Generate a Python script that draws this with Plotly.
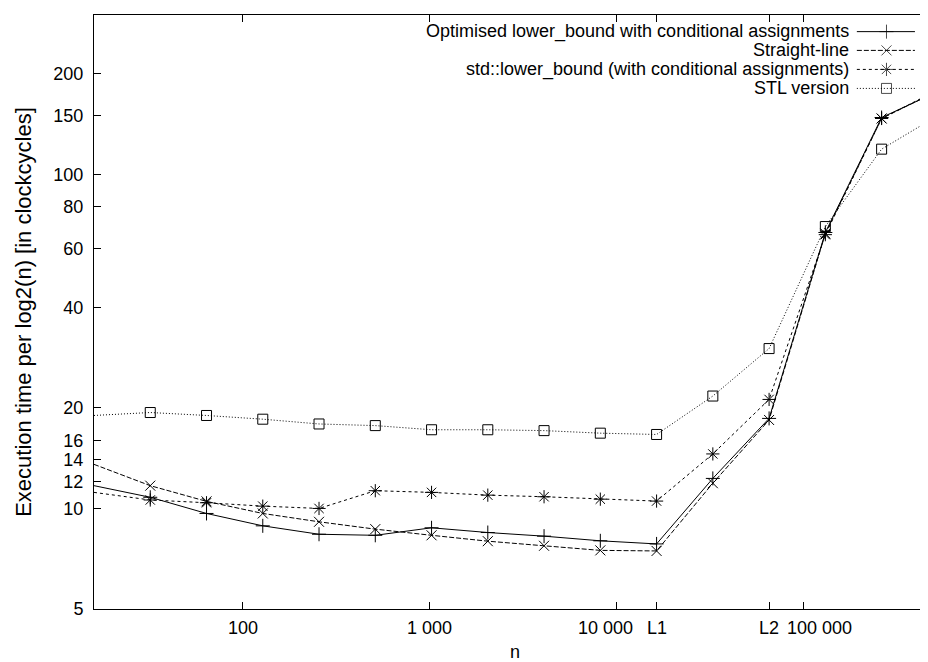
import math
import plotly.graph_objects as go

# problem sizes (powers of two)
n = [16, 32, 64, 128, 256, 512, 1024, 2048, 4096, 8192, 16384,
     32768, 65536, 131072, 262144, 524288]

optimised = [11.7, 10.8, 9.66, 8.87, 8.37, 8.31, 8.75, 8.47, 8.26, 8.0, 7.83,
             12.3, 18.6, 67.0, 148, 177]
straight = [13.55, 11.7, 10.5, 9.66, 9.12, 8.67, 8.31, 7.98, 7.73, 7.49, 7.46,
            11.9, 18.4, 66.5, 147, 178]
std_lb = [11.17, 10.6, 10.4, 10.16, 10.0, 11.3, 11.17, 10.96, 10.84, 10.66, 10.52,
          14.56, 21.2, 66.0, 147, 179]
stl = [18.98, 19.37, 18.98, 18.5, 17.9, 17.7, 17.2, 17.2, 17.1, 16.8, 16.65,
       21.7, 30.1, 69.8, 119, 150]

names = ['Optimised lower_bound with conditional assignments',
         'Straight-line',
         'std::lower_bound (with conditional assignments)',
         'STL version']

xtick_vals = [100, 1000, 10000, 16384, 65536, 100000]
xtick_text = ['100', '1 000', '10 000', 'L1', 'L2', '100 000']
ytick_vals = [5, 10, 12, 14, 16, 20, 40, 60, 80, 100, 150, 200]

# gnuplot nudged a couple of the labels sideways
xlabel_shift = [0, 0, -11, 0, 0, 16]

series = [optimised, straight, std_lb, stl]
dashes = ['solid', '5px,2px', '3px,3px', '1px,2px']
symbols = ['cross-thin', 'x-thin', 'asterisk', 'square-open']
sizes = [10, 10, 11, 10]

fig = go.Figure()
for ys, nm, d, s, sz in zip(series, names, dashes, symbols, sizes):
    fig.add_trace(go.Scatter(
        x=n, y=ys, name=nm, mode='lines+markers',
        line=dict(color='black', width=1, dash=d),
        marker=dict(symbol=s, size=sz, color='black',
                    line=dict(color='black', width=1)),
        cliponaxis=False, showlegend=False))

# gnuplot style key: text right aligned, sample on the right
key_y = [0.9720, 0.9404, 0.9084, 0.8764]
for nm, d, s, sz, ky in zip(names, dashes, symbols, sizes, key_y):
    fig.add_trace(go.Scatter(
        x=[0.906, 0.9412, 0.975], y=[ky, ky, ky], xaxis='x2', yaxis='y2',
        mode='lines+markers', showlegend=False, hoverinfo='skip',
        line=dict(color='black', width=1, dash=d),
        marker=dict(symbol=s, size=[0, sz, 0], color='black',
                    line=dict(color='black', width=1))))
    fig.add_annotation(x=0.899, y=ky, xref='paper', yref='paper', text=nm,
                       showarrow=False, xanchor='right', yanchor='middle',
                       font=dict(size=18, color='black'))

# x tick labels (log axis -> annotation x in log10 units)
for v, t, sh in zip(xtick_vals, xtick_text, xlabel_shift):
    fig.add_annotation(x=math.log10(v), y=0, xref='x', yref='paper', text=t,
                       showarrow=False, xanchor='center', yanchor='middle',
                       xshift=sh, yshift=-19, font=dict(size=18, color='black'))

fig.add_annotation(x=0.5, y=0, xref='paper', yref='paper', text='n',
                   showarrow=False, yanchor='middle', yshift=-43,
                   font=dict(size=18, color='black'))

fig.update_layout(
    width=928, height=662,
    margin=dict(l=86, r=0, t=7, b=61),
    paper_bgcolor='white', plot_bgcolor='white',
    font=dict(family='Liberation Sans, Arial, sans-serif', size=18, color='black'),
    xaxis=dict(type='log', range=[1.20412, 5.7096],
               tickvals=xtick_vals, showticklabels=False,
               ticks='inside', ticklen=7, tickcolor='black',
               showline=True, linecolor='black', linewidth=1, mirror='ticks',
               showgrid=False, zeroline=False),
    yaxis=dict(type='log', range=[0.69897, 2.47712],
               tickvals=ytick_vals, ticktext=[str(v) for v in ytick_vals],
               ticks='inside', ticklen=7, tickcolor='black',
               showline=True, linecolor='black', linewidth=1, mirror='ticks',
               showgrid=False, zeroline=False, ticklabelstandoff=6,
               title=dict(text='Execution time per log2(n) [in clockcycles]', standoff=15)),
    xaxis2=dict(overlaying='x', range=[0, 1], visible=False),
    yaxis2=dict(overlaying='y', range=[0, 1], visible=False),
)

fig.write_html("out.html")
